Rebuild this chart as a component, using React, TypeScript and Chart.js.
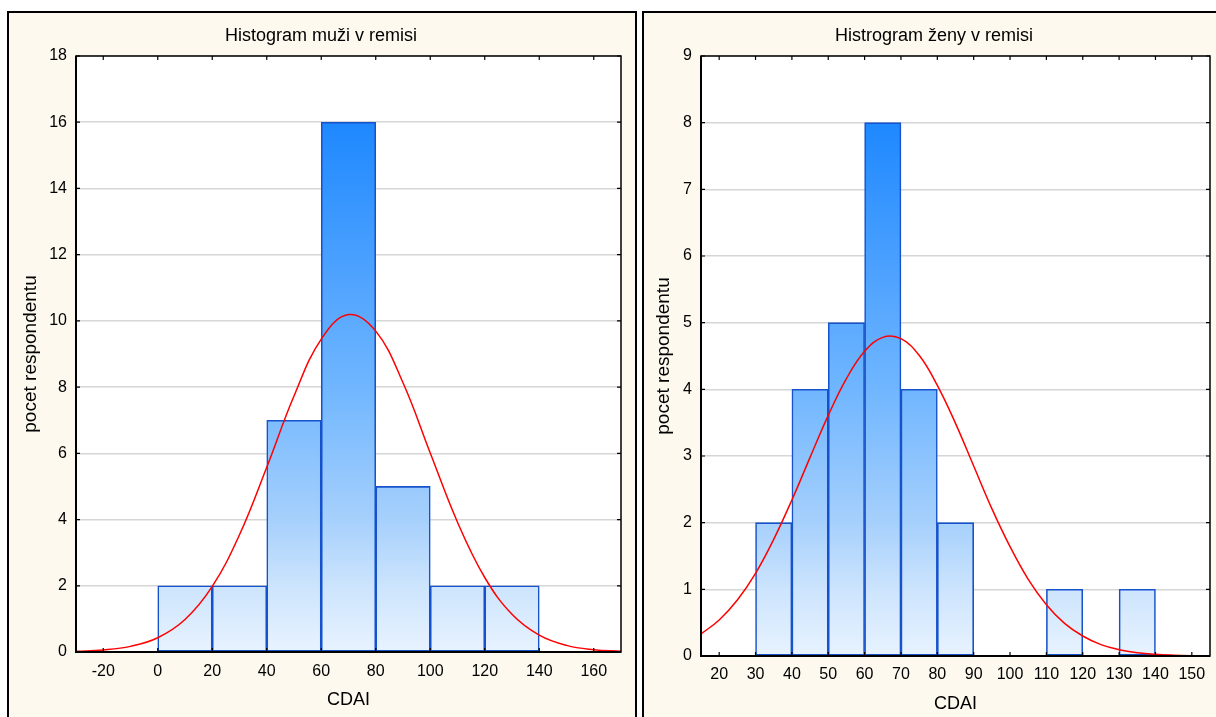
import React, { useEffect, useRef } from "react";
import { Chart, registerables } from "chart.js";
Chart.register(...registerables);

// ---------- data: left panel (muži) ----------
const maleTitle = "Histogram muži v remisi";
const maleBinStarts = [0, 20, 40, 60, 80, 100, 120];
const maleBinWidth = 20;
const maleCounts = [2, 2, 7, 16, 5, 2, 2];
const maleCurveX = [-30, -20, -10, 0, 10, 20, 30, 40, 50, 60, 70, 80, 90, 100, 110, 120, 130, 140, 150, 160, 170];
const maleCurveY = [0.02, 0.06, 0.17, 0.43, 0.98, 1.98, 3.54, 5.58, 7.73, 9.45, 10.19, 9.69, 8.13, 6.01, 3.92, 2.25, 1.14, 0.51, 0.2, 0.07, 0.02];
const maleXTicks = [-20, 0, 20, 40, 60, 80, 100, 120, 140, 160];
const maleYTicks = [0, 2, 4, 6, 8, 10, 12, 14, 16, 18];

// ---------- data: right panel (ženy) ----------
const femaleTitle = "Histrogram ženy v remisi";
const femaleBinStarts = [30, 40, 50, 60, 70, 80, 90, 100, 110, 120, 130];
const femaleBinWidth = 10;
const femaleCounts = [2, 4, 5, 8, 4, 2, 0, 0, 1, 0, 1];
const femaleCurveX = [15, 20, 25, 30, 35, 40, 45, 50, 55, 60, 65, 70, 75, 80, 85, 90, 95, 100, 105, 110, 115, 120, 125, 130, 135, 140, 145, 150, 155];
const femaleCurveY = [0.33, 0.54, 0.84, 1.24, 1.75, 2.34, 2.98, 3.61, 4.16, 4.57, 4.78, 4.76, 4.51, 4.06, 3.49, 2.85, 2.21, 1.64, 1.15, 0.77, 0.49, 0.3, 0.17, 0.095, 0.05, 0.025, 0.012, 0.005, 0.002];
const femaleXTicks = [20, 30, 40, 50, 60, 70, 80, 90, 100, 110, 120, 130, 140, 150];
const femaleYTicks = [0, 1, 2, 3, 4, 5, 6, 7, 8, 9];

const xLabel = "CDAI";
const yLabel = "pocet respondentu";
const FONT = "'Liberation Sans', Arial, sans-serif";

const gradStops: [number, string][] = [
  [0, "rgb(232,243,255)"],
  [0.125, "rgb(204,228,253)"],
  [0.25, "rgb(166,208,252)"],
  [0.5, "rgb(112,182,255)"],
  [0.75, "rgb(72,159,255)"],
  [1, "rgb(30,136,255)"],
];

const framePlugin = {
  id: "frame",
  beforeDraw(chart: any) {
    const { ctx, chartArea: a } = chart;
    if (!a) return;
    ctx.save();
    ctx.fillStyle = "#ffffff";
    ctx.fillRect(a.left, a.top, a.right - a.left, a.bottom - a.top);
    ctx.restore();
  },
  afterDatasetsDraw(chart: any) {
    const { ctx, chartArea: a, scales } = chart;
    ctx.save();
    ctx.strokeStyle = "#000";
    ctx.lineWidth = 1.5;
    ctx.strokeRect(a.left, a.top, a.right - a.left, a.bottom - a.top);
    ctx.lineWidth = 2;
    ctx.beginPath();
    ctx.moveTo(a.left, a.top);
    ctx.lineTo(a.left, a.bottom);
    ctx.lineTo(a.right, a.bottom);
    ctx.stroke();
    ctx.lineWidth = 1.2;
    const L = 4;
    ctx.beginPath();
    scales.x.ticks.forEach((t: any) => {
      const px = scales.x.getPixelForValue(t.value);
      ctx.moveTo(px, a.bottom);
      ctx.lineTo(px, a.bottom - L);
      ctx.moveTo(px, a.top);
      ctx.lineTo(px, a.top + L);
    });
    scales.y.ticks.forEach((t: any) => {
      const py = scales.y.getPixelForValue(t.value);
      ctx.moveTo(a.left, py);
      ctx.lineTo(a.left + L, py);
      ctx.moveTo(a.right, py);
      ctx.lineTo(a.right - L, py);
    });
    ctx.stroke();
    ctx.restore();
  },
};

type PanelProps = {
  title: string;
  binStarts: number[];
  binWidth: number;
  counts: number[];
  curveX: number[];
  curveY: number[];
  xTicks: number[];
  yTicks: number[];
  xMin: number;
  xMax: number;
  width: number;
  height: number;
  yAxisWidth: number;
  xAxisHeight: number;
  padLeft: number;
  padRight: number;
  yTitlePad: number;
  xTitlePad: number;
  xTickPad: number;
};

function Panel(p: PanelProps) {
  const ref = useRef<HTMLCanvasElement>(null);
  useEffect(() => {
    if (!ref.current) return;
    const maxCount = Math.max(...p.counts);
    const barData = p.binStarts
      .map((s, i) => ({ x: s + p.binWidth / 2, y: p.counts[i] }))
      .filter((d) => d.y > 0);
    const curveData = p.curveX.map((x, i) => ({ x, y: p.curveY[i] }));
    const chart = new Chart(ref.current, {
      type: "bar",
      data: {
        datasets: [
          {
            type: "line",
            data: curveData,
            borderColor: "#ff0000",
            borderWidth: 1.5,
            pointRadius: 0,
            tension: 0.4,
            fill: false,
            order: 0,
          } as any,
          {
            type: "bar",
            data: barData,
            order: 1,
            barPercentage: 1,
            categoryPercentage: 1,
            borderColor: "#1652cc",
            borderWidth: 1.6,
            borderSkipped: false,
            backgroundColor: (ctx: any) => {
              const ch = ctx.chart;
              const a = ch.chartArea;
              if (!a) return "rgb(150,200,255)";
              const y0 = a.bottom;
              const y1 = ch.scales.y.getPixelForValue(maxCount);
              const g = ch.ctx.createLinearGradient(0, y0, 0, y1);
              gradStops.forEach(([o, c]) => g.addColorStop(o, c));
              return g;
            },
          } as any,
        ],
      },
      options: {
        responsive: false,
        animation: false,
        events: [],
        layout: { padding: { left: p.padLeft, right: p.padRight, top: 0, bottom: 0 } },
        plugins: {
          legend: { display: false },
          tooltip: { enabled: false },
          title: {
            display: true,
            text: p.title,
            color: "#000",
            font: { family: FONT, size: 18, weight: "normal" },
            padding: { top: 12, bottom: 9.4 },
          },
        },
        scales: {
          x: {
            type: "linear",
            min: p.xMin,
            max: p.xMax,
            offset: false,
            afterBuildTicks: (s: any) => {
              s.ticks = p.xTicks.map((v) => ({ value: v }));
            },
            afterFit: (s: any) => {
              s.height = p.xAxisHeight;
            },
            ticks: {
              color: "#000",
              font: { family: FONT, size: 16 },
              padding: p.xTickPad,
              maxRotation: 0,
              autoSkip: false,
              callback: (v: any) => String(v),
            },
            grid: { display: false, drawTicks: false },
            border: { display: false },
            title: {
              display: true,
              text: xLabel,
              color: "#000",
              font: { family: FONT, size: 18 },
              padding: { top: 0, bottom: p.xTitlePad },
            },
          },
          y: {
            type: "linear",
            min: p.yTicks[0],
            max: p.yTicks[p.yTicks.length - 1],
            afterBuildTicks: (s: any) => {
              s.ticks = p.yTicks.map((v) => ({ value: v }));
            },
            afterFit: (s: any) => {
              s.width = p.yAxisWidth;
            },
            ticks: {
              color: "#000",
              font: { family: FONT, size: 16 },
              padding: 9,
              autoSkip: false,
              callback: (v: any) => String(v),
            },
            grid: { color: "#d6d6d6", lineWidth: 1.5, drawTicks: false },
            border: { display: false },
            title: {
              display: true,
              text: yLabel,
              color: "#000",
              font: { family: FONT, size: 19 },
              padding: { top: p.yTitlePad, bottom: 0 },
            },
          },
        },
      },
      plugins: [framePlugin],
    });
    return () => chart.destroy();
  }, []);
  return <canvas ref={ref} width={p.width} height={p.height} style={{ display: "block" }} />;
}

export default function App() {
  const panelStyle: React.CSSProperties = {
    position: "absolute",
    top: 11,
    height: 720,
    boxSizing: "border-box",
    border: "2px solid #000",
    background: "#fdf9ee",
    overflow: "hidden",
  };
  return (
    <div
      style={{
        position: "fixed",
        left: 0,
        top: 0,
        width: 1216,
        height: 717,
        background: "#ffffff",
        overflow: "hidden",
      }}
    >
      <div style={{ ...panelStyle, left: 7, width: 630 }}>
        <Panel
          title={maleTitle}
          binStarts={maleBinStarts}
          binWidth={maleBinWidth}
          counts={maleCounts}
          curveX={maleCurveX}
          curveY={maleCurveY}
          xTicks={maleXTicks}
          yTicks={maleYTicks}
          xMin={-30}
          xMax={170}
          width={626}
          height={704}
          yAxisWidth={55}
          xAxisHeight={65}
          padLeft={12}
          padRight={14}
          yTitlePad={-2}
          xTitlePad={6}
          xTickPad={9.5}
        />
      </div>
      <div style={{ ...panelStyle, left: 642, width: 590 }}>
        <Panel
          title={femaleTitle}
          binStarts={femaleBinStarts}
          binWidth={femaleBinWidth}
          counts={femaleCounts}
          curveX={femaleCurveX}
          curveY={femaleCurveY}
          xTicks={femaleXTicks}
          yTicks={femaleYTicks}
          xMin={15}
          xMax={155}
          width={582}
          height={704}
          yAxisWidth={43}
          xAxisHeight={61}
          padLeft={14}
          padRight={16}
          yTitlePad={-5.4}
          xTitlePad={2.2}
          xTickPad={8.5}
        />
      </div>
    </div>
  );
}
